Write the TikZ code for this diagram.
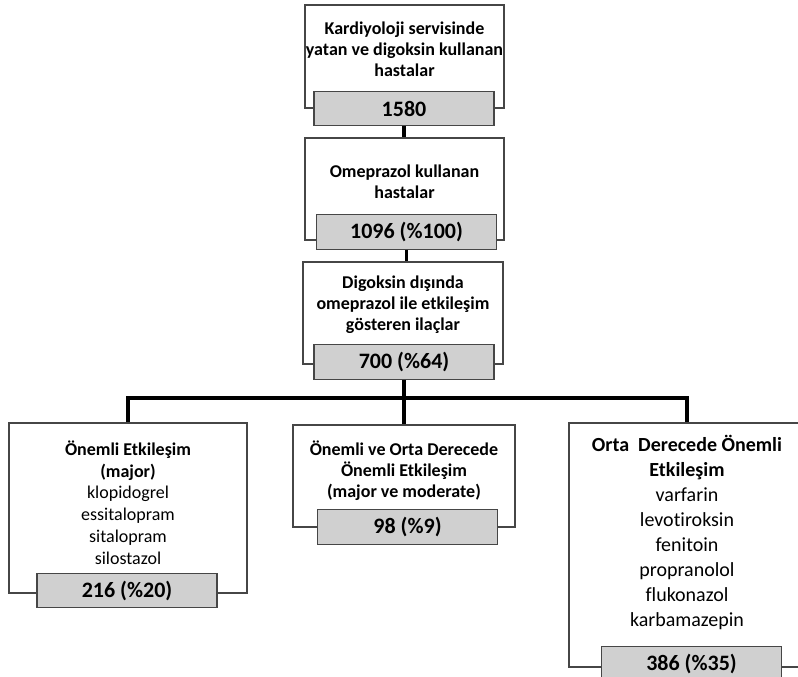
\documentclass[tikz,border=0pt]{standalone}
\usepackage{fontspec}
\setmainfont{Carlito}[Ligatures={NoCommon}]
\definecolor{boxline}{RGB}{70,70,70}
\definecolor{numfill}{RGB}{208,208,208}
\begin{document}
\begin{tikzpicture}[x=1pt,y=-1pt,
  whitebox/.style={draw=boxline,line width=1.3pt,fill=white,inner sep=0pt},
  numbox/.style={draw=boxline,line width=1.2pt,fill=numfill,inner sep=0pt,
    minimum width=180pt,minimum height=34.5pt,font=\fontsize{22}{26}\selectfont\bfseries},
  txt/.style={inner sep=0pt,align=center,font=\fontsize{18}{21}\selectfont},
  listtxt/.style={inner sep=0pt,align=center,font=\fontsize{18}{21.7}\selectfont},
  bigtxt/.style={inner sep=0pt,align=center,font=\fontsize{20}{25}\selectfont},
  conn/.style={line width=3.6pt,black}]
\useasboundingbox (0,0) rectangle (798,677);
\clip (0,0) rectangle (798,677);
% top chain
\node[whitebox,minimum width=199pt,minimum height=103pt] (b1) at (404.5,56.5) {};
\node[txt] (t1) at (404.5,49) {\bfseries Kardiyoloji servisinde\\\bfseries yatan ve digoksin kullanan\\\bfseries hastalar};
\node[numbox] (g1) at (404,108.5) {1580};
\node[whitebox,minimum width=199pt,minimum height=102pt] (b2) at (404.5,189) {};
\node[txt] (t2) at (404.5,182) {\bfseries Omeprazol kullanan\\\bfseries hastalar};
\node[numbox] (g2) at (406.5,232) {1096 (\%100)};
\node[whitebox,minimum width=200pt,minimum height=102pt] (b3) at (403,313) {};
\node[txt] (t3) at (403,305) {\bfseries Digoksin dışında\\\bfseries omeprazol ile etkileşim\\\bfseries gösteren ilaçlar};
\node[numbox] (g3) at (404,362) {700 (\%64)};
% bottom row
\node[whitebox,minimum width=238pt,minimum height=170pt] (bL) at (128,508) {};
\node[listtxt] (tL) at (128,502.5) {\bfseries Önemli Etkileşim\\\bfseries (major)\\klopidogrel\\essitalopram\\sitalopram\\silostazol};
\node[numbox] (gL) at (127,590.5) {216 (\%20)};
\node[whitebox,minimum width=222pt,minimum height=102pt] (bM) at (404,476) {};
\node[txt] (tM) at (404,471) {\bfseries Önemli ve Orta Derecede\\\bfseries Önemli Etkileşim\\\bfseries (major ve moderate)};
\node[numbox] (gM) at (407.5,527) {98 (\%9)};
\node[whitebox,minimum width=236pt,minimum height=244pt] (bR) at (687,545) {};
\node[bigtxt] (tR) at (687,532.5) {\bfseries Orta\ \ Derecede Önemli\\\bfseries Etkileşim\\varfarin\\levotiroksin\\fenitoin\\propranolol\\flukonazol\\karbamazepin};
\node[numbox] (gR) at (691.5,664) {386 (\%35)};
% connectors
\coordinate (bar) at (405,398);
\draw[conn] (g1.south) -- (g1.south |- b2.north);
\draw[conn] (g2.south) -- (g2.south |- b3.north);
\draw[conn] (g3.south) -- (g3.south |- bM.north);
\draw[conn] (bL.north) |- (bar) -| (bR.north);
\end{tikzpicture}
\end{document}
